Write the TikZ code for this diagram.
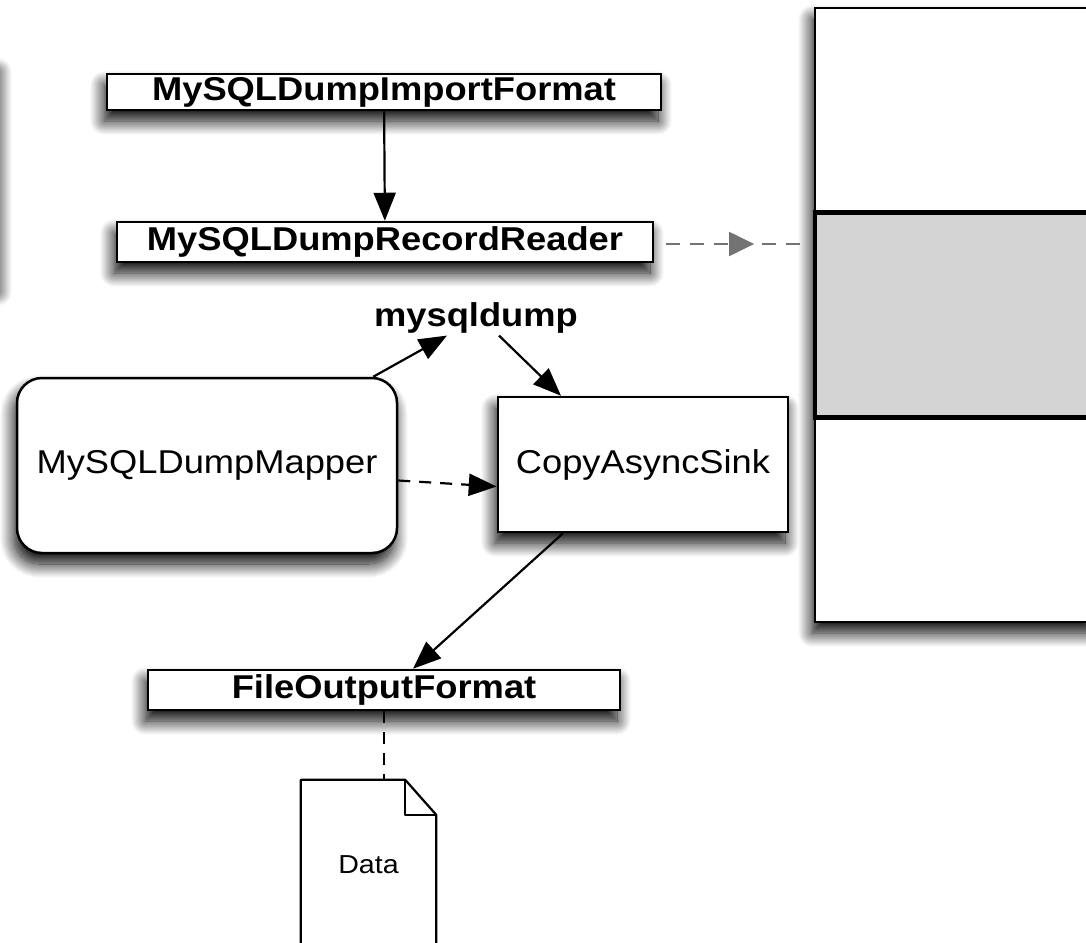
\documentclass[tikz,border=0pt]{standalone}
\usepackage{fontspec}
\setmainfont[FakeStretch=1.1]{Liberation Sans}
\usetikzlibrary{positioning, shapes, arrows.meta, calc, shadows.blur, decorations.markings}
\definecolor{cellgray}{HTML}{D4D4D4}

\begin{document}
\begin{tikzpicture}[x=1pt, y=-1pt,
    box/.style={rectangle, draw, line width=2.5pt, fill=white, inner sep=0pt, font=\fontsize{33}{38}\selectfont},
    boldbox/.style={box, font=\fontsize{33}{38}\selectfont\bfseries},
    dropsh/.style={blur shadow={shadow xshift=-3pt, shadow yshift=-11pt, shadow blur radius=14pt, shadow blur steps=16, shadow opacity=100}},
    link/.style={line width=2.2pt, -{Triangle[length=28pt, width=22pt, fill=black]}}]
  \useasboundingbox (0,0) rectangle (1086,942);

  % Shadow of the box cut off at the left edge
  \path[fill=white, blur shadow={shadow xshift=12pt, shadow yshift=-10pt, shadow blur radius=14pt, shadow blur steps=16, shadow opacity=100}] (-300,62) rectangle (-14,282);

  % Column on the right
  \path[fill=white, dropsh] (815,8) rectangle (1096,622);
  \foreach \n/\y/\f/\w in {colTop/110.5/white/2.5pt, colBot/519.5/white/2.5pt, colMid/315/cellgray/4.5pt}
  \node[rectangle, draw, fill=\f, line width=\w, minimum width=281pt, minimum height=205pt, inner sep=0pt] (\n) at (955.5,\y) {};

  % Nodes
  \node[boldbox, dropsh, minimum width=554pt, minimum height=36pt] (importfmt) at (384,92) {MySQLDumpImportFormat};
  \node[boldbox, dropsh, minimum width=536pt, minimum height=40pt] (reader) at (385,242) {MySQLDumpRecordReader};
  \node[inner sep=2pt, font=\fontsize{33}{38}\selectfont\bfseries] (dump) at (476,318) {mysqldump};
  \node[box, dropsh, rounded corners=25pt, minimum width=380pt, minimum height=175pt] (mapper) at (207,465.5) {MySQLDumpMapper};
  \node[box, dropsh, minimum width=290pt, minimum height=135pt] (sink) at (643,464.5) {CopyAsyncSink};
  \node[boldbox, dropsh, minimum width=472pt, minimum height=40pt] (outfmt) at (384,690) {FileOutputFormat};
  \node[minimum width=135pt, minimum height=170pt, font=\fontsize{26}{30}\selectfont] (data) at (368.5,865) {Data};

  % Document shape
  \draw[line width=2.2pt, line join=round] (data.south west) -- (data.north west) -- ([xshift=-31pt]data.north east) -- ([yshift=-35pt]data.north east) -- (data.south east);
  \draw[line width=2.2pt, line join=round] ([xshift=-31pt]data.north east) |- ([yshift=-35pt]data.north east);

  % Arrows
  \draw[link] (importfmt) -- (reader);
  \draw[link] ([xshift=-25pt]mapper.north east) -- ([xshift=-29pt]dump.south);
  \draw[link] ([xshift=23pt]dump.south) -- ([xshift=-82pt]sink.north);
  \draw[link, dash pattern=on 12pt off 9pt] ([yshift=-15pt]mapper.east) -- ([yshift=-22pt]sink.west);
  \draw[link] ([xshift=-80pt]sink.south) -- ([xshift=29pt]outfmt.north);
  \draw[line width=2.2pt, dash pattern=on 12pt off 9pt] (outfmt.south) -- (outfmt.south |- data.north);
  \draw[line width=2.2pt, black!55, dash pattern=on 14pt off 10pt, shorten <=12pt, shorten >=10pt,
    postaction={decorate}, decoration={markings, mark=at position 0.63 with {\arrow{Triangle[length=25pt, width=24pt]}}}]
    ([yshift=-2pt]reader.east) -- ([yshift=-2pt]reader.east -| colMid.west);
\end{tikzpicture}
\end{document}
